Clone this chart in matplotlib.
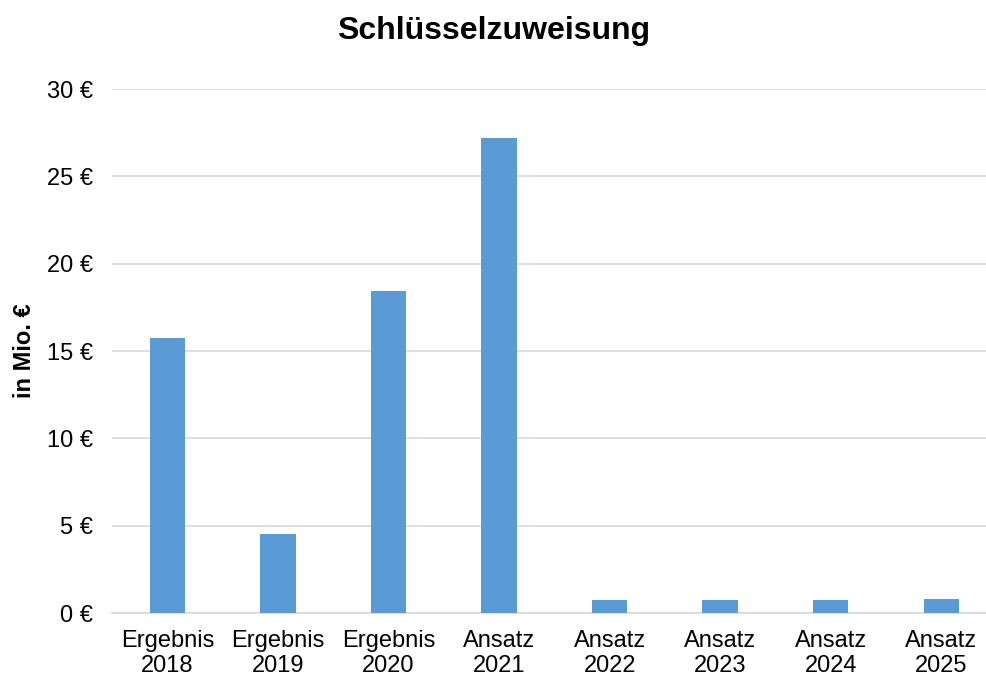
import matplotlib.pyplot as plt

plt.rcParams['font.family'] = ['Liberation Sans', 'DejaVu Sans']

# data
categories = ["Ergebnis\n2018", "Ergebnis\n2019", "Ergebnis\n2020", "Ansatz\n2021",
              "Ansatz\n2022", "Ansatz\n2023", "Ansatz\n2024", "Ansatz\n2025"]
values = [15.72, 4.52, 18.46, 27.22, 0.74, 0.73, 0.75, 0.78]
y_ticks = [0, 5, 10, 15, 20, 25, 30]

fig = plt.figure(figsize=(9.87, 6.82), dpi=100)
ax = fig.add_axes([112.25 / 987, 69 / 682, 884.25 / 987, 524 / 682])

x = range(len(categories))
ax.bar(x, values, width=0.32, color="#5B9BD5", zorder=3)

ax.set_xlim(-0.5, len(categories) - 0.5)
ax.set_ylim(0, 30)
ax.set_yticks(y_ticks)
ax.set_yticklabels([f"{v} €" for v in y_ticks], fontsize=17)
ax.set_xticks(list(x))
ax.set_xticklabels(categories, fontsize=17, linespacing=1.2)
ax.tick_params(axis="y", length=0, pad=14)
ax.tick_params(axis="x", length=0, pad=12)

ax.grid(axis="y", color="#D9D9D9", linewidth=1.2, zorder=0)
for s in ["top", "right", "left"]:
    ax.spines[s].set_visible(False)
ax.spines["bottom"].set_color("#D9D9D9")
ax.spines["bottom"].set_linewidth(1.2)

ax.set_ylabel("in Mio. €", fontsize=17, fontweight="bold", labelpad=8)
fig.text(0.5, 0.955, "Schlüsselzuweisung", ha="center", va="center",
         fontsize=23, fontweight="bold")

fig.savefig("out.png", dpi=100)
